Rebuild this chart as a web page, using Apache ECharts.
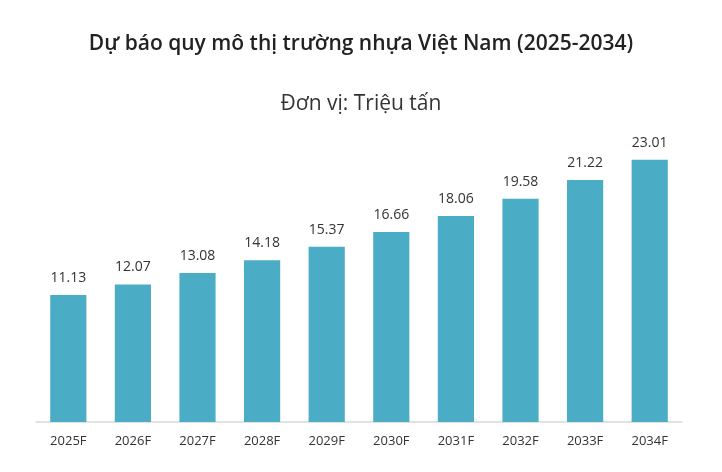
<!DOCTYPE html>
<html><head><meta charset="utf-8">
<script src="https://cdn.jsdelivr.net/npm/echarts@6/dist/echarts.min.js"></script>
<style>html,body{margin:0;padding:0;background:#fff}#c{width:722px;height:472px}</style>
</head><body><div id="c"></div>
<script>
const categories = ['2025F','2026F','2027F','2028F','2029F','2030F','2031F','2032F','2033F','2034F'];
const values = [11.13,12.07,13.08,14.18,15.37,16.66,18.06,19.58,21.22,23.01];
const titleText = 'Dự báo quy mô thị trường nhựa Việt Nam (2025-2034)';
const subtitleText = 'Đơn vị: Triệu tấn';

const chart = echarts.init(document.getElementById('c'));
chart.setOption({
  backgroundColor: '#fff',
  animation: false,
  title: [
    {text: titleText, left: 'center', top: 29,
     textStyle: {fontFamily: 'Open Sans', fontWeight: 600, fontSize: 21, color: '#222'}},
    {text: subtitleText, left: 'center', top: 89,
     textStyle: {fontFamily: 'Open Sans', fontWeight: 'normal', fontSize: 21, color: '#333'}}
  ],
  grid: {left: 36, right: 40, top: 137, bottom: 50, containLabel: false},
  xAxis: {
    type: 'category', data: categories,
    axisLine: {lineStyle: {color: '#d9d9d9', width: 1.5}},
    axisTick: {show: false},
    axisLabel: {fontFamily: 'Open Sans', fontSize: 13, color: '#333', margin: 13}
  },
  yAxis: {type: 'value', min: 0, max: 25, show: false, splitLine: {show: false}},
  series: [{
    type: 'bar', data: values, barWidth: '56%',
    itemStyle: {color: '#4BACC6'},
    label: {show: true, position: 'top', distance: 10, fontFamily: 'Open Sans', fontSize: 14, color: '#333',
      formatter: p => p.value.toFixed(2)}
  }]
});
</script></body></html>
